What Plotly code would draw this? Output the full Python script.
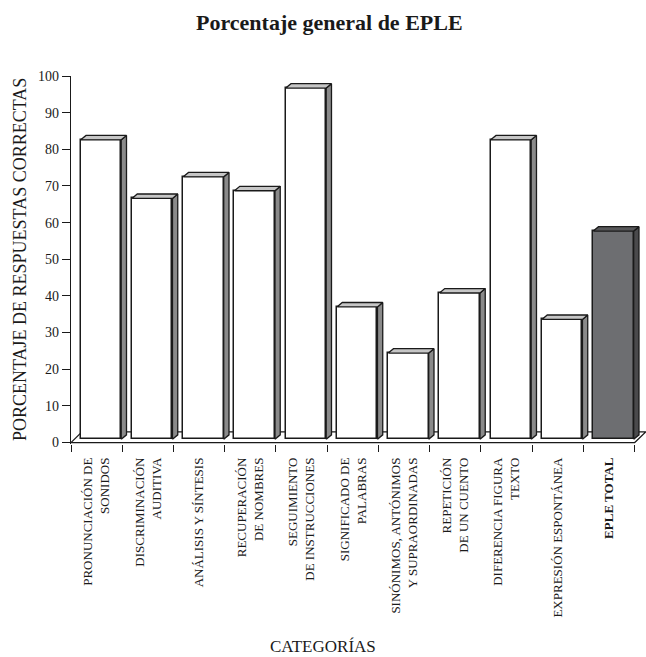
import plotly.graph_objects as go

categories = [
    "PRONUNCIACIÓN DE<br>SONIDOS",
    "DISCRIMINACIÓN<br>AUDITIVA",
    "ANÁLISIS Y SÍNTESIS",
    "RECUPERACIÓN<br>DE NOMBRES",
    "SEGUIMIENTO<br>DE INSTRUCCIONES",
    "SIGNIFICADO DE<br>PALABRAS",
    "SINÓNIMOS, ANTÓNIMOS<br>Y SUPRAORDINADAS",
    "REPETICIÓN<br>DE UN CUENTO",
    "DIFERENCIA FIGURA<br>TEXTO",
    "EXPRESIÓN ESPONTÁNEA",
    "<b>EPLE TOTAL</b>",
]
values = [82.6, 66.6, 72.5, 68.7, 96.7, 37.0, 24.4, 40.8, 82.6, 33.6, 57.7]
y_ticks = [0, 10, 20, 30, 40, 50, 60, 70, 80, 90, 100]

FONT = "Liberation Serif, Times New Roman, serif"
n = len(values)
xs = list(range(n))

# 3D geometry (in axis units)
B0 = 0.9            # front-face base lift
OFF, W = -0.31, 0.79
DDX, DDY = 0.103, 1.2   # bar depth
FDX, FDY = 0.214, 2.9   # floor depth

front_cols = ["white"] * (n - 1) + ["#6d6e71"]
side_cols = ["#8a8a8a"] * (n - 1) + ["#4a4a4c"]
top_cols = ["#c6c6c6"] * (n - 1) + ["#58585a"]

fig = go.Figure()

# side and top faces
for i, v in enumerate(values):
    xl = xs[i] + OFF
    xr = xl + W
    fig.add_trace(go.Scatter(
        x=[xr, xr, xr + DDX, xr + DDX, xr], y=[B0, v, v + DDY, B0 + DDY, B0],
        mode="lines", fill="toself", fillcolor=side_cols[i],
        line=dict(color="#1a1a1a", width=1.3), hoverinfo="skip", showlegend=False))
    fig.add_trace(go.Scatter(
        x=[xl, xr, xr + DDX, xl + DDX, xl], y=[v, v, v + DDY, v + DDY, v],
        mode="lines", fill="toself", fillcolor=top_cols[i],
        line=dict(color="#1a1a1a", width=1.3), hoverinfo="skip", showlegend=False))

# front faces
fig.add_trace(go.Bar(
    x=xs, y=[v - B0 for v in values], base=B0, width=W, offset=OFF,
    marker=dict(color=front_cols, line=dict(color="#1a1a1a", width=1.5)),
    hoverinfo="skip", showlegend=False))

# floor
x0, x1 = -0.5, n - 0.5
fig.add_shape(type="path", xref="x", yref="y", layer="below",
              path=f"M {x0},0 L {x1},0 L {x1 + FDX},{FDY} L {x0 + FDX},{FDY} Z",
              fillcolor="white", line=dict(color="#1a1a1a", width=1.2))

fig.update_layout(
    width=646, height=657,
    margin=dict(l=71, r=0, t=76, b=213),
    paper_bgcolor="white", plot_bgcolor="white",
    font=dict(family=FONT, color="#1a1a1a"),
    bargap=0,
    xaxis=dict(
        range=[-0.5, n - 0.5 + 0.22], tickmode="array", tickvals=xs, ticktext=categories,
        tickangle=-90, ticks="", showgrid=False, zeroline=False, showline=False,
        tickfont=dict(family=FONT, size=13, color="#1a1a1a"), ticklabelstandoff=10,
        minor=dict(tickmode="array", tickvals=[i - 0.5 for i in range(n + 1)],
                   ticks="outside", ticklen=7, tickwidth=1.2, tickcolor="#1a1a1a",
                   showgrid=False),
    ),
    yaxis=dict(
        range=[-0.4, 100], tickmode="array", tickvals=y_ticks, ticks="outside",
        ticklen=8, tickwidth=1.2, tickcolor="#1a1a1a", showline=True,
        linecolor="#1a1a1a", linewidth=1.2, showgrid=False, zeroline=False,
        tickfont=dict(family=FONT, size=14, color="#1a1a1a"),
    ),
    annotations=[
        dict(text="<b>Porcentaje general de EPLE</b>", xref="paper", yref="paper",
             x=(329 - 71) / 575, y=1, yshift=54, showarrow=False, xanchor="center",
             yanchor="middle", font=dict(family=FONT, size=22, color="#1a1a1a")),
        dict(text="PORCENTAJE DE RESPUESTAS CORRECTAS", xref="paper", yref="paper",
             x=0, y=0.5, xshift=-51, showarrow=False, textangle=-90,
             xanchor="center", yanchor="middle",
             font=dict(family=FONT, size=18, color="#1a1a1a")),
        dict(text="CATEGORÍAS", xref="paper", yref="paper",
             x=(323 - 71) / 575, y=0, yshift=-202, showarrow=False,
             xanchor="center", yanchor="middle",
             font=dict(family=FONT, size=17, color="#1a1a1a")),
    ],
)

fig.write_html("out.html", config={"displayModeBar": False},
               post_script="document.body.style.margin='0';")
